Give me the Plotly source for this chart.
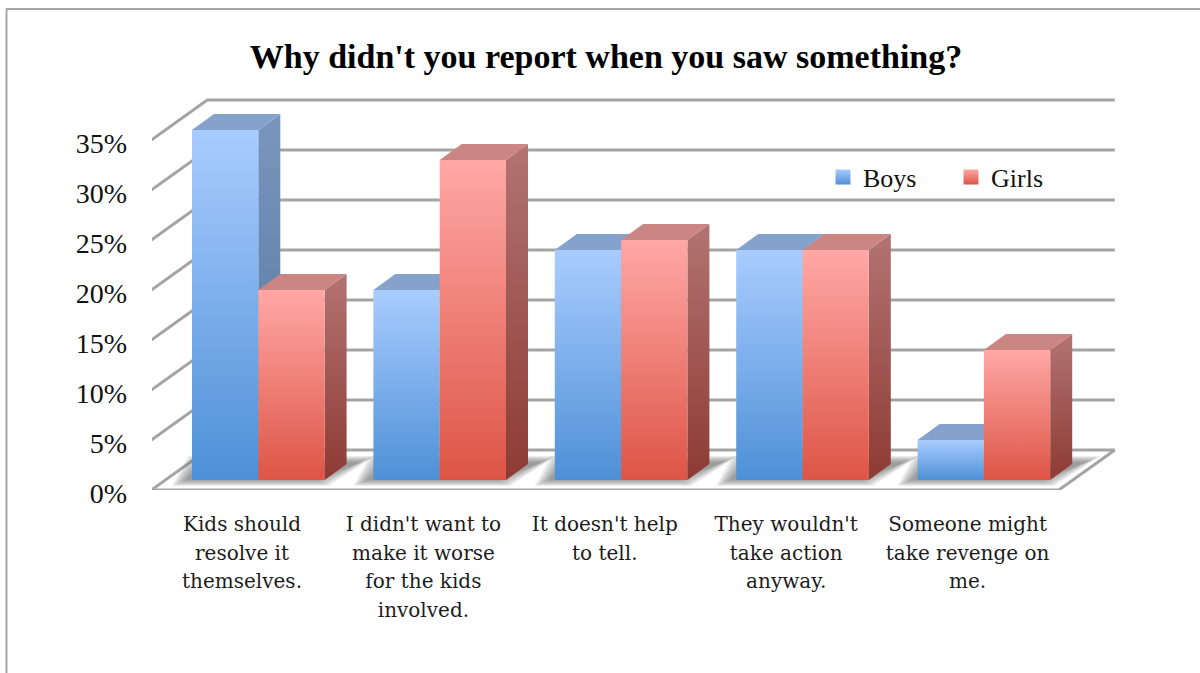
import plotly.graph_objects as go

title = "Why didn't you report when you saw something?"
category_lines = [["Kids should", "resolve it", "themselves."],
                  ["I didn't want to", "make it worse", "for the kids", "involved."],
                  ["It doesn't help", "to tell."],
                  ["They wouldn't", "take action", "anyway."],
                  ["Someone might", "take revenge on", "me."]]
boys = [35, 19, 23, 23, 4]
girls = [19, 32, 24, 23, 13]
y_ticks = [0, 5, 10, 15, 20, 25, 30, 35]

FONT = "Liberation Serif"
LABEL_FONT = "DejaVu Serif"
UNIT = 181.4            # px per category
X0_PX, L_PX, R_PX = 242, 152, 1120
T_PX, B_PX = 90, 490
PX_Y = 10               # px per percentage point
xr = [(L_PX - X0_PX) / UNIT, (R_PX - X0_PX) / UNIT]

def dx(px):
    return px / UNIT

def dy(px):
    return px / PX_Y

DEPTH_X, DEPTH_Y = dx(56), dy(40)
FLOOR_L, FLOOR_R = -0.5, 4.503
BAR_W = dx(66.3)
BAR_START = dx(-50)     # left edge of first bar, relative to category centre
BAR_BASE = dy(10)
SIDE_X, SIDE_Y = dx(22), dy(16)
GRID = "#A4A4A4"

BOY = dict(front=["#A9CCFF", "#4E90D6"], side=["#7A96BC", "#4F749F"], top="#84A2CB")
GIRL = dict(front=["#FFA8A6", "#DD5546"], side=["#B27472", "#8E3A34"], top="#CB8582")

categories = ["<br>".join(f'<span style="font-size:20px">{s}</span>' for s in lines)
              for lines in category_lines]

fig = go.Figure()

def poly(xs, ys, color=None, grad=None):
    kw = dict(fillcolor=color) if color else dict(
        fillgradient=dict(type="vertical", colorscale=[[0, grad[1]], [1, grad[0]]]))
    fig.add_trace(go.Scatter(x=xs + xs[:1], y=ys + ys[:1], mode="none", fill="toself",
                             showlegend=False, hoverinfo="skip", **kw))

# walls and floor outline
for v in y_ticks:
    fig.add_trace(go.Scatter(x=[FLOOR_L, FLOOR_L + DEPTH_X, FLOOR_R + DEPTH_X],
                             y=[v, v + DEPTH_Y, v + DEPTH_Y], mode="lines", cliponaxis=False,
                             line=dict(color=GRID, width=3), showlegend=False, hoverinfo="skip"))
fig.add_trace(go.Scatter(x=[FLOOR_L, FLOOR_R, FLOOR_R + DEPTH_X],
                         y=[0, 0, DEPTH_Y], mode="lines", cliponaxis=False,
                         line=dict(color=GRID, width=3), showlegend=False, hoverinfo="skip"))

# soft floor shadows
for i in range(5):
    left = i + BAR_START
    right = left + 2 * BAR_W
    for inset in [0, 2, 4, 6, 8, 10, 12, 14]:
        ix, iy = dx(inset), dy(inset * 0.45)
        poly([left - dx(20) + ix, right + dx(4) - ix, right + dx(50) - ix, left - dx(4) + ix],
             [BAR_BASE - dy(6) + iy, BAR_BASE - dy(6) + iy,
              BAR_BASE + dy(24) - iy, BAR_BASE + dy(24) - iy],
             color="rgba(90,90,90,0.10)")

# bars
def bar(left, value, style):
    right = left + BAR_W
    top = BAR_BASE + value
    poly([right, right + SIDE_X, right + SIDE_X, right],
         [BAR_BASE, BAR_BASE + SIDE_Y, top + SIDE_Y, top], grad=style["side"])
    poly([left, left + SIDE_X, right + SIDE_X, right],
         [top, top + SIDE_Y, top + SIDE_Y, top], color=style["top"])
    poly([left, right, right, left], [BAR_BASE, BAR_BASE, top, top], grad=style["front"])

for i in range(5):
    bar(i + BAR_START, boys[i], BOY)
    bar(i + BAR_START + BAR_W, girls[i], GIRL)

# legend entries
for name, st in (("Boys", BOY), ("Girls", GIRL)):
    fig.add_trace(go.Scatter(x=[None], y=[None], mode="markers", name=name,
                             marker=dict(symbol="square", size=15, color=st["front"][0],
                                         gradient=dict(type="vertical", color=st["front"][1]))))

W, H = 1200, 673
def px(x):
    return (x - L_PX) / (R_PX - L_PX)
def py(y):
    return (B_PX - y) / (B_PX - T_PX)

fig.update_layout(
    width=W, height=H, autosize=False,
    margin=dict(l=L_PX, r=W - R_PX, t=T_PX, b=H - B_PX, pad=0),
    paper_bgcolor="white", plot_bgcolor="rgba(0,0,0,0)",
    font=dict(family=FONT, color="#111111"),
    title=dict(text="<b>" + title + "</b>", x=606 / W, xanchor="center",
               y=1 - 56 / H, yanchor="middle", font=dict(family=FONT, size=34, color="#000000")),
    xaxis=dict(range=xr, tickmode="array", tickvals=list(range(5)), ticktext=categories,
               showgrid=False, zeroline=False, showline=False, ticks="",
               tickangle=0, ticklabelstandoff=18, tickfont=dict(family=LABEL_FONT, size=22, color="#1c1c1c")),
    yaxis=dict(range=[0, 40], tickmode="array", tickvals=y_ticks,
               ticktext=[f"{v}%" for v in y_ticks], showgrid=False, zeroline=False,
               showline=False, ticks="", ticklabelstandoff=24, ticklabelshift=3,
               tickfont=dict(family=FONT, size=28, color="#111111")),
    legend=dict(orientation="h", x=px(823), y=py(177), xanchor="left", yanchor="middle",
                bgcolor="rgba(0,0,0,0)", font=dict(family=FONT, size=26, color="#111111"),
                entrywidth=83, entrywidthmode="pixels", traceorder="normal"),
    shapes=[dict(type="line", xref="paper", yref="paper", x0=px(6.5), x1=px(6.5), y0=py(9), y1=py(680),
                 line=dict(color="#A8A8A8", width=2), layer="below"),
            dict(type="line", xref="paper", yref="paper", x0=px(6), x1=px(1200), y0=py(9), y1=py(9),
                 line=dict(color="#A8A8A8", width=2), layer="below")],
)

fig.write_html("out.html", post_script="document.body.style.margin='0';",
               config=dict(displayModeBar=False))
